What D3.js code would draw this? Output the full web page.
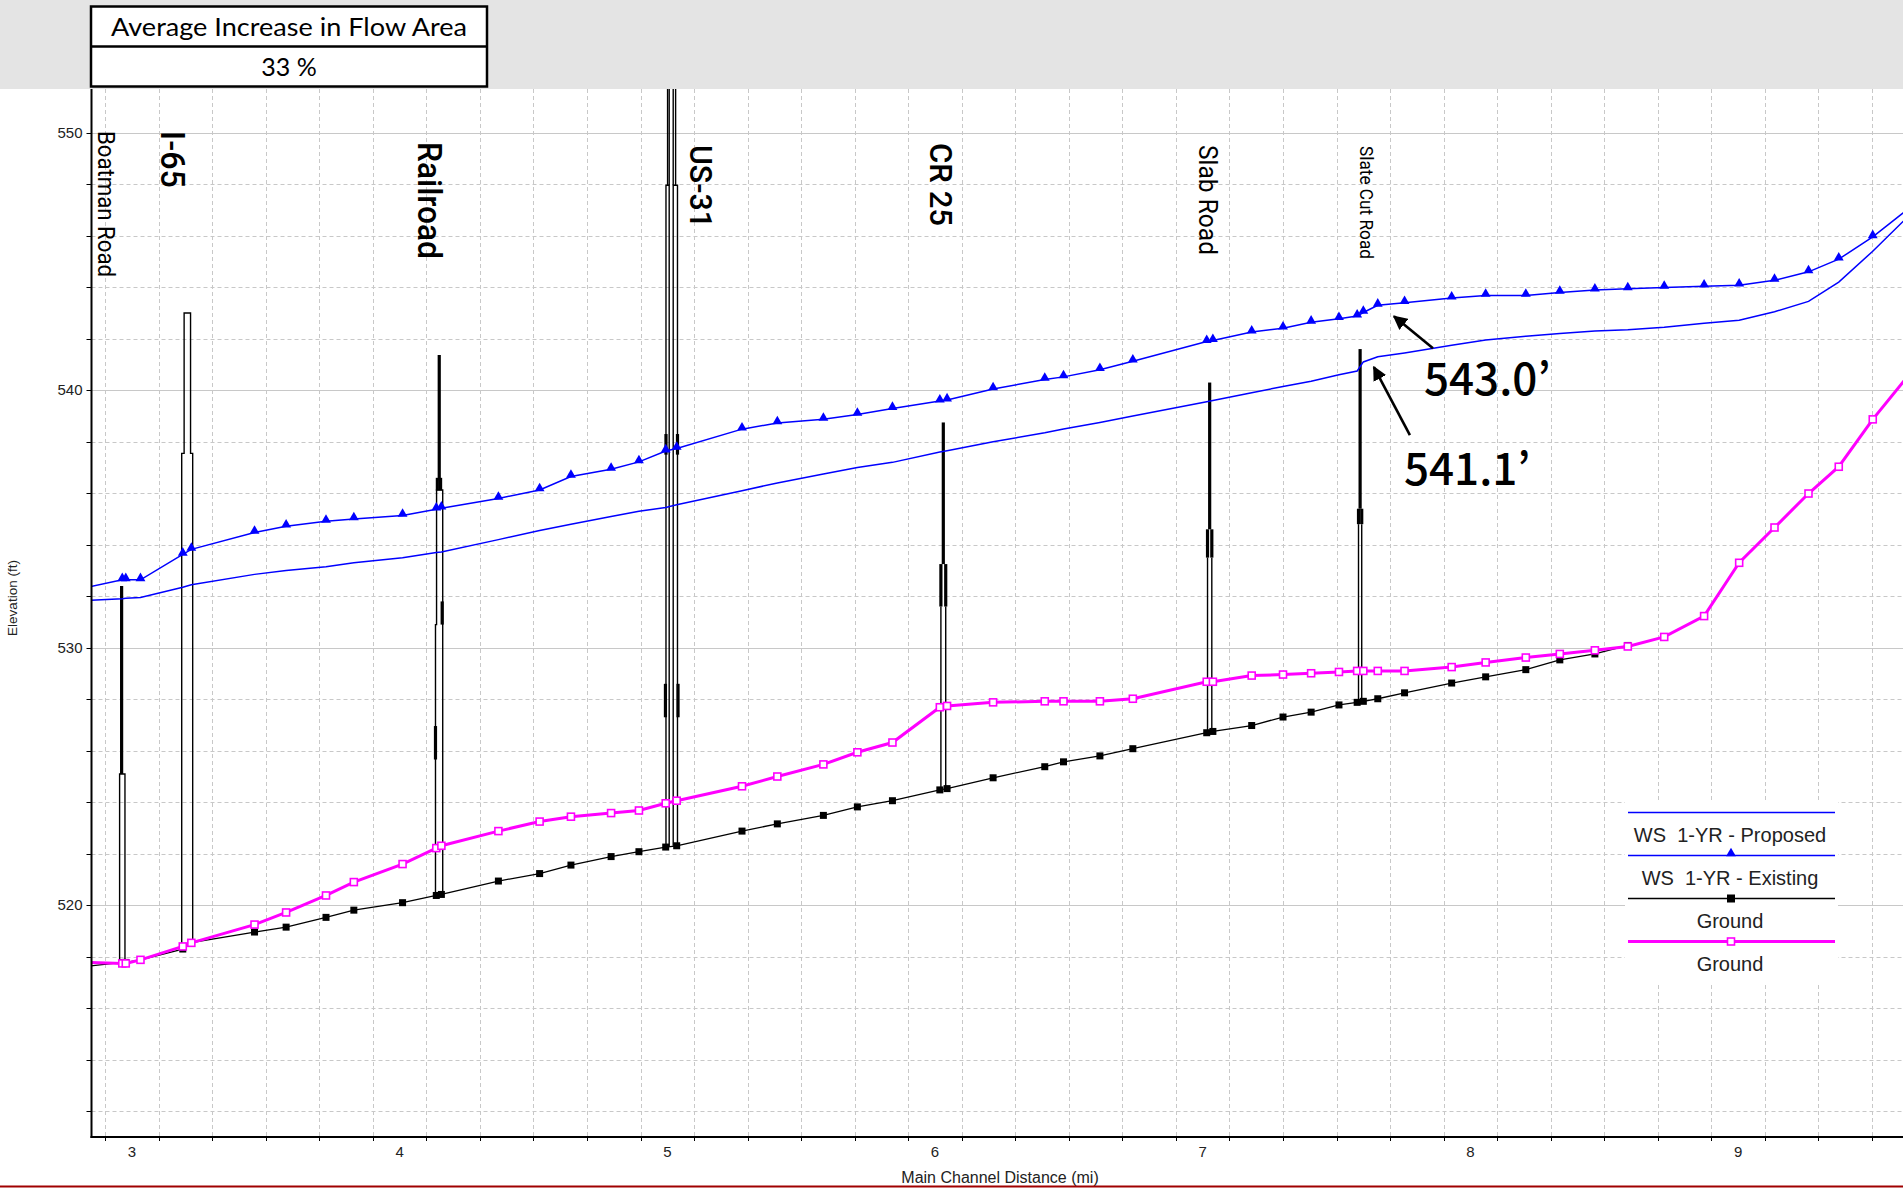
<!DOCTYPE html>
<html><head><meta charset="utf-8">
<script src="https://cdn.jsdelivr.net/npm/d3@7"></script>
<style>html,body{margin:0;padding:0;background:#fff;}svg{display:block;}</style>
</head><body>
<svg id="chart" width="1903" height="1188"></svg>
<script>
// ---------------- DATA ----------------
const stations = [2.84,2.964,2.977,3.032,3.190,3.222,3.458,3.576,3.725,3.829,4.011,4.137,4.156,4.369,4.523,4.640,4.790,4.894,4.994,5.035,5.279,5.411,5.583,5.710,5.841,6.018,6.045,6.217,6.410,6.480,6.616,6.739,7.015,7.038,7.183,7.300,7.405,7.509,7.577,7.600,7.654,7.754,7.930,8.057,8.207,8.334,8.465,8.588,8.724,8.873,9.004,9.136,9.263,9.376,9.503,9.630];
const wsExisting = [532.36,532.64,532.64,532.64,533.63,533.82,534.48,534.72,534.91,535.00,535.14,535.38,535.42,535.80,536.13,536.65,536.93,537.22,537.64,537.74,538.49,538.73,538.87,539.06,539.29,539.58,539.62,540.05,540.42,540.52,540.80,541.13,541.89,541.93,542.26,542.41,542.64,542.78,542.88,543.02,543.30,543.40,543.58,543.68,543.68,543.80,543.89,543.94,543.99,544.04,544.08,544.27,544.60,545.09,545.96,547.0];
const wsProposed = [531.84,531.90,531.92,531.95,532.35,532.45,532.85,533.00,533.15,533.30,533.50,533.70,533.72,534.20,534.55,534.80,535.10,535.30,535.45,535.55,536.10,536.40,536.75,537.00,537.20,537.60,537.65,538.00,538.35,538.50,538.75,539.00,539.55,539.60,539.90,540.15,540.35,540.60,540.75,541.10,541.30,541.45,541.75,541.95,542.10,542.20,542.30,542.35,542.45,542.60,542.72,543.05,543.45,544.20,545.40,546.7];
const groundProposed = [517.64,517.78,517.78,517.88,518.30,518.55,518.96,519.15,519.53,519.81,520.10,520.38,520.42,520.94,521.23,521.56,521.89,522.08,522.26,522.31,522.88,523.16,523.49,523.82,524.06,524.48,524.53,524.95,525.38,525.57,525.80,526.08,526.70,526.75,526.98,527.31,527.50,527.78,527.88,527.92,528.02,528.25,528.63,528.87,529.15,529.53,529.76,530.09,null,null,null,null,null,null,null,null];
const groundExisting = [517.78,517.74,517.74,517.88,518.40,518.54,519.25,519.72,520.38,520.90,521.60,522.22,522.31,522.88,523.25,523.44,523.58,523.68,523.96,524.06,524.62,525.00,525.47,525.94,526.32,527.69,527.74,527.88,527.92,527.92,527.92,528.02,528.68,528.68,528.92,528.96,529.01,529.06,529.10,529.10,529.10,529.10,529.25,529.43,529.62,529.76,529.90,530.05,530.42,531.23,533.30,534.67,535.99,537.03,538.87,540.5];

const seriesNames = ["WS  1-YR - Proposed","WS  1-YR - Existing","Ground","Ground"];

const xTickValues = [3,4,5,6,7,8,9];
const yTickValues = [520,530,540,550];

// bridge structures: polylines in (mile, ft); kind "deck" = heavy, "chord" = thin outline
const bridgeNames = ["Boatman Road","I-65","Railroad","US-31","CR 25","Slab Road","Slate Cut Road"];
const bridgeLabelStations = [2.902,3.153,4.115,5.125,6.022,7.018,7.613];
const bridgeParts = [
  [ ["deck",[[2.9615,525.1],[2.9615,532.4]]],
    ["chord",[[2.954,517.76],[2.954,525.1],[2.974,525.1],[2.974,517.76]]] ],
  [ ["chord",[[3.186,518.35],[3.186,537.55],[3.195,537.55],[3.195,543.0],[3.219,543.0],[3.219,537.55],[3.227,537.55],[3.227,518.45]]] ],
  [ ["deck",[[4.148,536.5],[4.148,541.37]]],
    ["deck",[[4.141,536.1],[4.141,536.6]]],["deck",[[4.153,536.1],[4.153,536.6]]],
    ["chord",[[4.134,520.38],[4.134,530.9],[4.138,530.9],[4.138,536.13],[4.161,536.13],[4.161,520.42]]],
    ["deck",[[4.159,530.9],[4.159,531.8]]],["deck",[[4.134,525.66],[4.134,526.96]]] ],
  [ ["chord",[[5.001,547.96],[5.001,553]]],["chord",[[5.007,547.96],[5.007,553]]],
    ["chord",[[5.022,547.96],[5.022,553]]],["chord",[[5.031,547.96],[5.031,553]]],
    ["chord",[[4.995,522.26],[4.995,547.96],[5.007,547.96],[5.007,522.26]]],
    ["chord",[[5.022,522.31],[5.022,547.96],[5.038,547.96],[5.038,522.31]]],
    ["deck",[[4.995,537.5],[4.995,538.3]]],["deck",[[5.038,537.5],[5.038,538.3]]],
    ["deck",[[4.993,527.3],[4.993,528.6]]],["deck",[[5.040,527.3],[5.040,528.6]]] ],
  [ ["deck",[[6.031,533.25],[6.031,538.75]]],
    ["deck",[[6.022,531.6],[6.022,533.25]]],["deck",[[6.040,531.6],[6.040,533.25]]],
    ["chord",[[6.022,524.48],[6.022,531.6]]],["chord",[[6.040,524.53],[6.040,531.6]]] ],
  [ ["deck",[[7.026,534.6],[7.026,540.3]]],
    ["deck",[[7.018,533.5],[7.018,534.6]]],["deck",[[7.034,533.5],[7.034,534.6]]],
    ["chord",[[7.018,526.7],[7.018,533.5]]],["chord",[[7.034,526.75],[7.034,533.5]]] ],
  [ ["deck",[[7.588,535.4],[7.588,541.6]]],
    ["deck",[[7.582,534.8],[7.582,535.4]]],["deck",[[7.594,534.8],[7.594,535.4]]],
    ["chord",[[7.582,527.9],[7.582,534.8]]],["chord",[[7.594,527.92],[7.594,534.8]]] ]
];

const tableTitle = "Average Increase in Flow Area";
const tableValue = "33 %";
const calloutLabels = ["543.0\u2019","541.1\u2019"];
const calloutTargets = [[7.707,542.95],[7.632,540.98]];

// ---------------- LAYOUT ----------------
const W = 1903, H = 1188;
const plot = {left: 91.5, right: 1903, top: 89, bottom: 1137};
const x = d3.scaleLinear().domain([2.849, 9.616]).range([plot.left, plot.right]);
const y = d3.scaleLinear().domain([511, 551.7]).range([plot.bottom, plot.top]);

const svg = d3.select("#chart");
svg.append("rect").attr("width",W).attr("height",H).attr("fill","#fff");

svg.append("defs").append("clipPath").attr("id","clip")
  .append("rect").attr("x",plot.left).attr("y",plot.top)
  .attr("width",plot.right-plot.left).attr("height",plot.bottom-plot.top);

// grid
const grid = svg.append("g");
const xMinor = d3.range(29, 97, 2).map(v=>v/10).filter(v=>v>x.domain()[0] && v<x.domain()[1]);
const yMinor = d3.range(512, 552, 2);
grid.selectAll("line.xm").data(xMinor).join("line")
  .attr("x1",d=>Math.round(x(d))+0.5).attr("x2",d=>Math.round(x(d))+0.5)
  .attr("y1",plot.top).attr("y2",plot.bottom)
  .attr("stroke","#c8c8c8").attr("stroke-width",1)
  .attr("stroke-dasharray", d=>Number.isInteger(Math.round(d*10)/10) ? null : "4,3");
grid.selectAll("line.ym").data(yMinor).join("line")
  .attr("y1",d=>Math.round(y(d))+0.5).attr("y2",d=>Math.round(y(d))+0.5)
  .attr("x1",plot.left).attr("x2",plot.right)
  .attr("stroke","#c8c8c8").attr("stroke-width",1)
  .attr("stroke-dasharray", d=> d%10===0 ? null : "4,3");

const g = svg.append("g").attr("clip-path","url(#clip)");

// bridges
const lineXY = d3.line().x(d=>x(d[0])).y(d=>y(d[1]));
bridgeParts.forEach(parts=>{
  parts.forEach(([kind,pts])=>{
    g.append("path").attr("d",lineXY(pts)).attr("fill","none")
      .attr("stroke","#000")
      .attr("stroke-width", kind==="deck"?3.2:1.4)
      .attr("stroke-linejoin","miter");
  });
});

function seriesPts(vals){ return stations.map((s,i)=>[s,vals[i]]); }
const lineGen = d3.line().defined(d=>d[1]!=null).x(d=>x(d[0])).y(d=>y(d[1]));
const markerPts = vals => seriesPts(vals).filter(d=>d[1]!=null && d[0]>x.domain()[0] && d[0]<x.domain()[1]);

// black ground (proposed)
g.append("path").attr("d",lineGen(seriesPts(groundProposed))).attr("fill","none")
  .attr("stroke","#000").attr("stroke-width",1.3);
g.selectAll("rect.gp").data(markerPts(groundProposed)).join("rect")
  .attr("x",d=>x(d[0])-3.5).attr("y",d=>y(d[1])-3.5).attr("width",7).attr("height",7).attr("fill","#000");

// magenta ground (existing)
g.append("path").attr("d",lineGen(seriesPts(groundExisting))).attr("fill","none")
  .attr("stroke","#ff00ff").attr("stroke-width",3);
g.selectAll("rect.ge").data(markerPts(groundExisting)).join("rect")
  .attr("x",d=>x(d[0])-3.5).attr("y",d=>y(d[1])-3.5).attr("width",7).attr("height",7)
  .attr("fill","#fff").attr("stroke","#ff00ff").attr("stroke-width",1.6);

// WS proposed
g.append("path").attr("d",lineGen(seriesPts(wsProposed))).attr("fill","none")
  .attr("stroke","#0000ff").attr("stroke-width",1.5);
// WS existing
g.append("path").attr("d",lineGen(seriesPts(wsExisting))).attr("fill","none")
  .attr("stroke","#0000ff").attr("stroke-width",1.5);
const tri = d3.symbol().type(d3.symbolTriangle).size(42);
g.selectAll("path.we").data(markerPts(wsExisting)).join("path")
  .attr("d",tri).attr("transform",d=>`translate(${x(d[0])},${y(d[1])-1.5})`).attr("fill","#0000ff");

// axes
const axisG = svg.append("g");
axisG.append("line").attr("x1",plot.left).attr("x2",plot.left).attr("y1",plot.top).attr("y2",plot.bottom+1)
  .attr("stroke","#000").attr("stroke-width",2);
axisG.append("line").attr("x1",plot.left-1).attr("x2",plot.right).attr("y1",plot.bottom).attr("y2",plot.bottom)
  .attr("stroke","#000").attr("stroke-width",2);
axisG.selectAll("line.xt").data(xMinor).join("line")
  .attr("x1",d=>Math.round(x(d))+0.5).attr("x2",d=>Math.round(x(d))+0.5)
  .attr("y1",plot.bottom).attr("y2",plot.bottom+4).attr("stroke","#000");
axisG.selectAll("line.yt").data(yMinor).join("line")
  .attr("y1",d=>Math.round(y(d))+0.5).attr("y2",d=>Math.round(y(d))+0.5)
  .attr("x1",plot.left-5).attr("x2",plot.left).attr("stroke","#000");
axisG.selectAll("text.xl").data(xTickValues).join("text")
  .attr("x",d=>x(d)).attr("y",plot.bottom+20).attr("text-anchor","middle")
  .attr("font-family","Liberation Sans, Arial, sans-serif").attr("font-size",15).attr("fill","#222")
  .text(d=>d);
axisG.selectAll("text.yl").data(yTickValues).join("text")
  .attr("x",plot.left-9).attr("y",d=>y(d)+5).attr("text-anchor","end")
  .attr("font-family","Liberation Sans, Arial, sans-serif").attr("font-size",15).attr("fill","#222")
  .text(d=>d);
svg.append("text").attr("x",1000).attr("y",1183).attr("text-anchor","middle")
  .attr("font-family","Liberation Sans, Arial, sans-serif").attr("font-size",16).attr("fill","#222")
  .text("Main Channel Distance (mi)");
svg.append("text").attr("transform","translate(17,598) rotate(-90)").attr("text-anchor","middle")
  .attr("font-family","Liberation Sans, Arial, sans-serif").attr("font-size",13.5).attr("fill","#222")
  .text("Elevation (ft)");

// bridge labels (rotated, reading top to bottom)
const labelStyle = [
  {size:24, len:146, top:131, w:400},
  {size:34, len:57, top:131, w:500},
  {size:34, len:117, top:142, w:500},
  {size:32, len:83, top:145, w:500},
  {size:32, len:83, top:143, w:500},
  {size:26, len:110, top:145, w:400},
  {size:19, len:113, top:146, w:400}
];
bridgeNames.forEach((nm,i)=>{
  const st = labelStyle[i];
  svg.append("text")
    .attr("transform",`translate(${x(bridgeLabelStations[i])},${st.top}) rotate(90)`)
    .attr("dominant-baseline","central")
    .attr("font-family","Roboto, sans-serif").attr("font-weight",st.w).attr("font-size",st.size)
    .attr("textLength",st.len).attr("lengthAdjust","spacingAndGlyphs")
    .attr("fill","#000").text(nm);
});

// callouts
const defs = svg.select("defs");
defs.append("marker").attr("id","arr").attr("viewBox","0 0 10 10").attr("refX",9).attr("refY",5)
  .attr("markerWidth",5.5).attr("markerHeight",5.5).attr("orient","auto")
  .append("path").attr("d","M0,0 L10,5 L0,10 z").attr("fill","#000");
const calloutOffsets = [{from:[41,34], text:[32,81]},{from:[38,70], text:[32,120]}];
calloutLabels.forEach((lb,i)=>{
  const tx = x(calloutTargets[i][0]), ty = y(calloutTargets[i][1]);
  const o = calloutOffsets[i];
  svg.append("line").attr("x1",tx+o.from[0]).attr("y1",ty+o.from[1]).attr("x2",tx+2).attr("y2",ty+2)
    .attr("stroke","#000").attr("stroke-width",2.6).attr("marker-end","url(#arr)");
  svg.append("text").attr("x",tx+o.text[0]).attr("y",ty+o.text[1])
    .attr("font-family","Noto Sans CJK JP, sans-serif").attr("font-weight",500).attr("font-size",44)
    .attr("fill","#000").text(lb);
});

// legend
const lg = svg.append("g");
lg.append("rect").attr("x",1625).attr("y",802).attr("width",213).attr("height",180).attr("fill","#fff");
const legendRows = [
  {stroke:"#0000ff", w:1.5, mk:null},
  {stroke:"#0000ff", w:1.5, mk:"tri"},
  {stroke:"#000", w:1.5, mk:"sq"},
  {stroke:"#ff00ff", w:3, mk:"osq"}
];
legendRows.forEach((r,i)=>{
  const ly = 812.5 + i*43;
  lg.append("line").attr("x1",1628).attr("x2",1835).attr("y1",ly).attr("y2",ly)
    .attr("stroke",r.stroke).attr("stroke-width",r.w);
  if(r.mk==="tri") lg.append("path").attr("d",tri).attr("transform",`translate(1731,${ly-2})`).attr("fill","#0000ff");
  if(r.mk==="sq") lg.append("rect").attr("x",1727).attr("y",ly-4).attr("width",8).attr("height",8).attr("fill","#000");
  if(r.mk==="osq") lg.append("rect").attr("x",1727.5).attr("y",ly-3.5).attr("width",7).attr("height",7).attr("fill","#fff").attr("stroke","#ff00ff").attr("stroke-width",1.6);
  lg.append("text").attr("x",1730).attr("y",ly+29).attr("text-anchor","middle")
    .attr("font-family","Liberation Sans, Arial, sans-serif").attr("font-size",20).attr("fill","#222")
    .style("white-space","pre").attr("xml:space","preserve")
    .text(seriesNames[i]);
});

// top band + table
svg.append("rect").attr("x",0).attr("y",0).attr("width",W).attr("height",plot.top).attr("fill","#e4e4e4");
svg.append("rect").attr("x",91).attr("y",6.5).attr("width",396).attr("height",80).attr("fill","#fff")
  .attr("stroke","#000").attr("stroke-width",2.5);
svg.append("line").attr("x1",91).attr("x2",487).attr("y1",46.5).attr("y2",46.5).attr("stroke","#000").attr("stroke-width",2.5);
svg.append("text").attr("x",289).attr("y",36).attr("text-anchor","middle")
  .attr("font-family","Lato, sans-serif").attr("font-size",25).attr("fill","#000")
  .attr("textLength",356).attr("lengthAdjust","spacingAndGlyphs").text(tableTitle);
svg.append("text").attr("x",289).attr("y",76).attr("text-anchor","middle")
  .attr("font-family","Lato, sans-serif").attr("font-size",25).attr("fill","#000").text(tableValue);

// bottom red rule
svg.append("line").attr("x1",0).attr("x2",W).attr("y1",1186.5).attr("y2",1186.5).attr("stroke","#a00000").attr("stroke-width",2);
</script>
</body></html>
